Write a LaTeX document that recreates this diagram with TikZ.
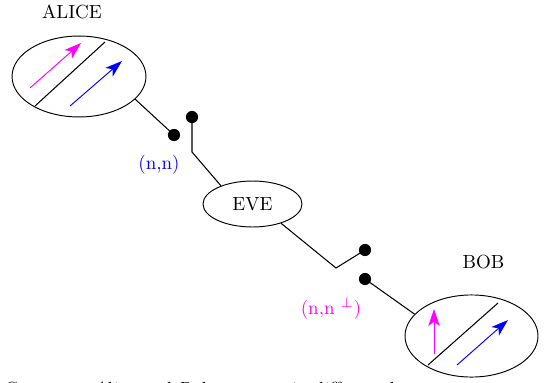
\documentclass[tikz,border=0pt]{standalone}
\usetikzlibrary{shapes.geometric,arrows.meta}
\definecolor{mag}{RGB}{255,0,255}
\definecolor{blu}{RGB}{0,0,255}
\begin{document}
\begin{tikzpicture}[x=0.5263pt,y=-0.5263pt,
  oval/.style={draw,ellipse,line width=0.5pt,inner sep=0pt},
  dotnode/.style={circle,fill=black,inner sep=0pt,minimum size=6.4pt},
  wire/.style={line width=0.55pt},
  spin/.style={line width=0.5pt,-{Stealth[length=9pt,width=6pt,inset=2.4pt]}},
  lbl/.style={inner sep=0pt}]
\useasboundingbox (0,0) rectangle (546,382);
% ellipses
\node[oval,minimum width=70.5pt,minimum height=42.6pt] (alice) at (79,76.5) {};
\node[oval,minimum width=52.1pt,minimum height=24.2pt] (eve) at (252.5,204) {EVE};
\node[oval,minimum width=70pt,minimum height=43.2pt] (bob) at (471.5,336) {};
% labels
\node[lbl] (alicelabel) at (72,12) {ALICE};
\node[lbl] (boblabel) at (483.5,262) {BOB};
\node[lbl,text=blu] (nn) at (159,165) {(n,n)};
\node[lbl,text=mag] (nnp) at (331,309) {(n,n $^{\perp}$)};
% switch dots
\node[dotnode] (d1) at (174,135) {};
\node[dotnode] (d2) at (192,117) {};
\node[dotnode] (d3) at (365,250) {};
\node[dotnode] (d4) at (365,279) {};
\coordinate (k1) at (192,152);
\coordinate (k2) at (336,268);
% connectors
\draw[wire] (alice.-22) -- (d1.center);
\draw[wire] (d2.center) -- (k1) -- (eve.150);
\draw[wire] (eve.-34) -- (k2) -- (d3.center);
\draw[wire] (d4.center) -- (bob.159);
% Alice interior
\draw[wire] (35,106) -- (105,42);
\draw[spin,mag] (30,88) -- (81,43);
\draw[spin,blu] (70,106) -- (122,61);
% Bob interior
\draw[wire] (428,365) -- (498,303);
\draw[spin,mag] (434,354) -- (434,309);
\draw[spin,blu] (457,365) -- (508,320);
% cut-off caption
\node[anchor=base west,inner sep=0pt,font=\itshape] (caption) at (1,395.6) {Case one: Alice and Bob measure in different bases};
\end{tikzpicture}
\end{document}
